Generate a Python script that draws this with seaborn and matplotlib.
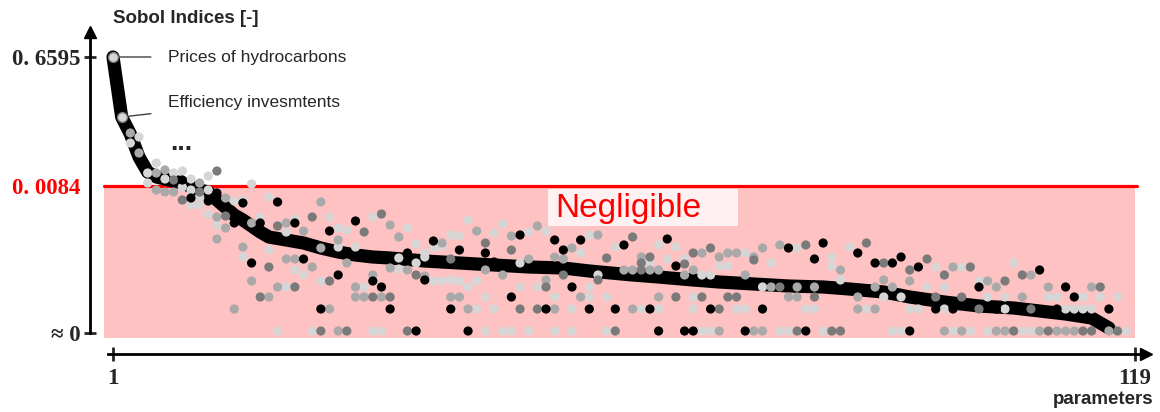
import pandas as pd
import seaborn as sns
import matplotlib.pyplot as plt
from matplotlib.patches import Rectangle

# Schematic level units: 0 -> "≈ 0", 147 -> 0.0084, 276 -> 0.6595
ytick_level = [0, 147, 276]
ytick_text = ["≈ 0", "0. 0084", "0. 6595"]
xtick_rank = [1, 119]
xtick_text = ["1", "119"]
threshold = 147

# ranked Sobol index curve (thick black line)
line_rank = [1, 2, 3, 4, 5, 6, 7, 9, 11, 12, 13, 15, 16, 18, 19, 21, 23, 25, 27, 29,
             31, 33, 37, 41, 45, 49, 53, 56, 61, 64, 68, 71, 75, 79, 83, 86, 90, 93, 97, 101,
             105, 108, 111, 114, 115, 116]
line_level = [276, 216, 199, 176, 161, 156, 154, 150, 143, 141, 133, 118, 113, 101, 96, 93, 90, 85, 81, 78,
              76, 75, 72, 70, 68, 66, 65, 62, 58, 56, 53, 51, 49, 47, 46, 44, 41, 36, 31, 27,
              25, 22, 19, 15, 10, 5]

# scattered indices (rank, level) by grey shade
dots_light = [(4, 196), (3, 190), (6, 170), (5, 160), (9, 162), (8, 160), (7, 154), (10, 154), (12, 157),
              (5, 150), (9, 146), (10, 143), (12, 143), (17, 149), (10, 128), (11, 136), (11, 128), (15, 132),
              (16, 133), (19, 136), (12, 119), (13, 108), (18, 116), (21, 101), (22, 114), (26, 116), (27, 105),
              (28, 103), (27, 86), (29, 86), (16, 76), (19, 83), (22, 63), (23, 58), (21, 46), (25, 52), (30, 46),
              (20, 2), (24, 2),
              (31, 116), (35, 105), (36, 89), (37, 80), (38, 86), (39, 87), (40, 98), (41, 97), (42, 113),
              (45, 100), (46, 109), (49, 101), (51, 102), (55, 80), (56, 98), (59, 86), (36, 70), (37, 76),
              (34, 64), (34, 75), (38, 52), (39, 52), (40, 53), (41, 52), (42, 46), (43, 52), (48, 70), (50, 46),
              (52, 36), (56, 46), (56, 36), (57, 58), (58, 36), (44, 36), (48, 46), (43, 24), (45, 24), (54, 24),
              (31, 2), (32, 2), (44, 2), (46, 2), (47, 2), (49, 2), (52, 2), (54, 2), (58, 2),
              (63, 70), (64, 88), (65, 74), (66, 86), (67, 74), (71, 67), (72, 67), (74, 80), (77, 70), (80, 85),
              (84, 76), (84, 67), (85, 53), (86, 86), (69, 58), (70, 58), (76, 46), (68, 36), (90, 36), (62, 24),
              (64, 24), (68, 24), (73, 24), (74, 24), (81, 24), (82, 24), (88, 24), (69, 2), (70, 2), (78, 2),
              (79, 2), (83, 2),
              (96, 66), (99, 66), (95, 46), (97, 46), (92, 36), (93, 24), (94, 24), (97, 24), (101, 52), (102, 36),
              (104, 36), (105, 70), (104, 24), (109, 36), (110, 36), (111, 24), (112, 24), (113, 36), (113, 24),
              (114, 24), (115, 36), (117, 36), (91, 2), (92, 2), (98, 2), (100, 2), (102, 2), (106, 2), (107, 2),
              (118, 2)]
dots_mid = [(3, 200), (4, 180), (6, 160), (7, 163), (11, 150), (6, 143), (7, 141), (8, 141), (14, 135), (25, 131),
            (13, 116), (14, 105), (13, 94), (17, 110), (21, 110), (23, 102), (25, 85), (27, 93), (16, 86), (21, 74),
            (22, 74), (24, 66), (17, 52), (20, 46), (28, 70), (29, 46), (29, 36), (30, 36), (19, 36), (15, 24),
            (26, 24), (27, 2),
            (33, 108), (34, 96), (39, 90), (43, 102), (47, 97), (50, 107), (52, 76), (54, 85), (57, 98), (33, 65),
            (35, 63), (37, 57), (44, 63), (46, 58), (49, 74), (51, 53), (53, 74), (55, 36), (31, 58), (32, 36),
            (40, 36), (41, 36), (42, 24), (52, 24),
            (62, 76), (69, 80), (71, 76), (72, 80), (73, 80), (75, 76), (76, 85), (78, 88), (85, 63), (60, 63),
            (61, 63), (63, 63), (64, 63), (67, 58), (68, 63), (74, 58), (77, 46), (80, 46), (82, 46), (90, 53),
            (64, 36), (79, 36), (80, 36), (87, 36), (89, 46), (61, 24), (87, 24), (89, 24), (71, 2), (75, 2), (76, 2),
            (98, 66), (91, 46), (93, 52), (102, 52), (103, 46), (107, 58), (106, 36), (109, 46), (114, 46),
            (97, 2), (99, 2), (103, 2), (104, 2), (108, 2), (110, 2), (111, 2), (112, 2), (116, 2)]
dots_dark = [(8, 153), (13, 162), (11, 141), (9, 133), (14, 117), (20, 107), (24, 116), (19, 66), (22, 46),
             (26, 52), (18, 36), (25, 2), (28, 2),
             (32, 119), (44, 90), (47, 83), (58, 75), (30, 101), (36, 58), (40, 74), (51, 46), (53, 58), (57, 53),
             (31, 36), (33, 36), (48, 24), (50, 24), (35, 2), (59, 2),
             (61, 96), (62, 70), (63, 76), (67, 69), (68, 80), (70, 85), (75, 73), (81, 88), (88, 90), (62, 63),
             (78, 46), (66, 36), (69, 36), (72, 36), (73, 36), (82, 36), (71, 24), (80, 2), (84, 2), (85, 2),
             (90, 70), (93, 63), (95, 74), (97, 58), (100, 66), (96, 36), (99, 36), (104, 52), (106, 58), (101, 24),
             (107, 24), (115, 46), (105, 2), (109, 2), (113, 2), (114, 2), (117, 2)]
dots_black = [(9, 153), (13, 140), (10, 135), (12, 132), (16, 130), (20, 131), (15, 110), (18, 110), (22, 110),
              (26, 102), (29, 112), (17, 70), (23, 74), (27, 58), (25, 24),
              (38, 92), (41, 83), (44, 80), (48, 98), (52, 93), (53, 83), (55, 93), (35, 80), (37, 53), (45, 71),
              (54, 46), (31, 52), (32, 46), (33, 24), (47, 36), (40, 24), (51, 24), (56, 24), (59, 24), (36, 2),
              (42, 2),
              (60, 88), (65, 94), (66, 67), (79, 85), (82, 74), (83, 90), (87, 80), (89, 70), (63, 24), (70, 24),
              (76, 24), (64, 2), (67, 2), (68, 2), (74, 2), (81, 2),
              (91, 70), (92, 76), (94, 66), (96, 24), (98, 24), (101, 46), (103, 24), (108, 63), (110, 24),
              (111, 46), (112, 36), (116, 24), (93, 2)]

# labelled top parameters
top_rank = [1, 2]
top_level = [276, 216]
top_names = ["Prices of hydrocarbons", "Efficiency invesmtents"]
top_text_level = [276, 231]

shade_colors = {"black": "#000000", "dark": "#7a7a7a", "mid": "#a9a9a9", "light": "#d6d6d6"}

frames = []
for name, pts in [("light", dots_light), ("mid", dots_mid), ("dark", dots_dark), ("black", dots_black)]:
    d = pd.DataFrame(pts, columns=["rank", "level"])
    d["shade"] = name
    frames.append(d)
dots = pd.concat(frames, ignore_index=True)

sns.set_style("white")
plt.rcParams["font.family"] = ["Liberation Sans", "DejaVu Sans"]

fig = plt.figure(figsize=(11.6, 4.12), dpi=100)
ax = fig.add_axes([0, 0, 1, 1])

# negligible zone
ax.fill_between([0, 119], -5, threshold, color="#ffc2c2", lw=0, zorder=0)
ax.plot([0, 119.2], [threshold, threshold], color="red", lw=2.3, zorder=2)
ax.add_patch(Rectangle((51.2, 107), 22, 37, facecolor="white", alpha=0.78, lw=0, zorder=1))
ax.text(60.5, 125, "Negligible", color="red", fontsize=24, ha="center", va="center", zorder=6)

sns.lineplot(x=line_rank, y=line_level, color="black", lw=9.5, sort=False, ax=ax, zorder=3,
             solid_capstyle="round", solid_joinstyle="round")
sns.scatterplot(data=dots, x="rank", y="level", hue="shade", palette=shade_colors, s=44,
                linewidth=0, legend=False, ax=ax, zorder=4)
sns.scatterplot(x=top_rank, y=top_level, color="#d6d6d6", edgecolor="#777777", s=50,
                linewidth=1, ax=ax, zorder=5)

for r, lv, tl, nm in zip(top_rank, top_level, top_text_level, top_names):
    ax.annotate(nm, xy=(r, lv), xytext=(7.35, tl), fontsize=12.5, va="center",
                arrowprops=dict(arrowstyle="-", color="#404040", lw=1, shrinkA=10, shrinkB=5))
ax.text(8.9, 183, "...", fontsize=19, fontweight="bold", ha="center", va="baseline")

# axes drawn as arrows
ax.set_xlim(-12.05, 121.9)
ax.set_ylim(-79, 333)
for s in ["top", "right"]:
    ax.spines[s].set_visible(False)
ax.spines["left"].set_position(("data", -1.66))
ax.spines["left"].set_bounds(0, 300)
ax.spines["bottom"].set_position(("data", -21))
ax.spines["bottom"].set_bounds(0.4, 120)
for s in ["left", "bottom"]:
    ax.spines[s].set_linewidth(2)
    ax.spines[s].set_color("black")
ax.plot(-1.66, 301, marker="^", color="black", ms=9, clip_on=False)
ax.plot(120.3, -21, marker=">", color="black", ms=9, clip_on=False)

ax.set_yticks(ytick_level, ytick_text)
ax.set_xticks(xtick_rank, xtick_text)
ax.tick_params(axis="y", direction="inout", length=8, width=2, pad=3, left=True)
ax.tick_params(axis="x", direction="inout", length=10, width=2, pad=5, bottom=True)
for lab in ax.get_yticklabels() + ax.get_xticklabels():
    lab.set_fontfamily(["Liberation Serif", "DejaVu Serif"])
    lab.set_fontweight("bold")
    lab.set_fontsize(16.5)
ax.get_yticklabels()[1].set_color("red")
ax.yaxis.get_major_ticks()[1].tick1line.set_visible(False)
ax.set_xlabel("")
ax.set_ylabel("")

ax.text(1, 315, "Sobol Indices [-]", fontsize=13.5, fontweight="bold", va="center")
ax.text(121.1, -67, "parameters", fontsize=13.5, fontweight="bold", ha="right", va="center")

fig.savefig("out.png", dpi=100)
